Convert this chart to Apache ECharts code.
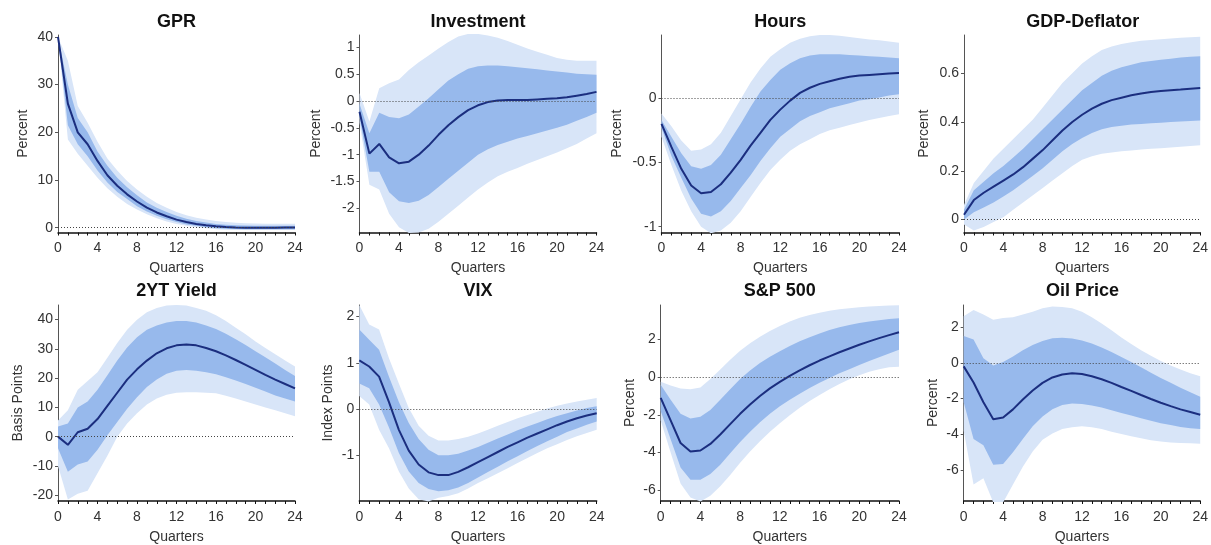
<!DOCTYPE html>
<html><head><meta charset="utf-8">
<script src="https://cdn.jsdelivr.net/npm/echarts@6/dist/echarts.min.js"></script>
<style>html,body{margin:0;padding:0;background:#fff}#c{width:1211px;height:545px}</style>
</head><body><div id="c"></div><script>
const quarters = [0,1,2,3,4,5,6,7,8,9,10,11,12,13,14,15,16,17,18,19,20,21,22,23,24];

// GPR
const gprMed   = [40,26,20,17.5,14,11,8.8,7,5.5,4.2,3.2,2.4,1.7,1.2,0.8,0.5,0.3,0.15,0.05,0,0,0,0,0.03,0.05];
const gprInLo  = [40,21.5,17.5,15,12,9.5,7.5,6,4.5,3.4,2.5,1.8,1.2,0.7,0.4,0.1,-0.1,-0.2,-0.25,-0.3,-0.3,-0.3,-0.3,-0.3,-0.3];
const gprInHi  = [40,30,23,20,16,13,10.5,8.5,6.8,5.3,4.2,3.3,2.5,1.9,1.4,1.1,0.8,0.6,0.5,0.45,0.4,0.4,0.4,0.4,0.4];
const gprOutLo = [40,18.5,15.5,13,10.5,8.3,6.5,5,3.8,2.8,2,1.3,0.8,0.4,0.1,-0.1,-0.3,-0.4,-0.5,-0.5,-0.5,-0.5,-0.5,-0.5,-0.5];
const gprOutHi = [40,35,25.5,22,18,14.5,12,9.8,8,6.5,5.2,4.2,3.3,2.6,2.1,1.7,1.4,1.2,1.05,0.95,0.9,0.85,0.85,0.85,0.85];
const gprTicks = [0,10,20,30,40];

// Investment
const invMed   = [-0.2,-0.98,-0.8,-1.05,-1.16,-1.13,-1.0,-0.83,-0.63,-0.45,-0.3,-0.17,-0.08,-0.02,0.01,0.02,0.02,0.02,0.03,0.04,0.05,0.07,0.1,0.13,0.17];
const invInLo  = [-0.3,-1.32,-1.32,-1.7,-1.87,-1.9,-1.86,-1.75,-1.6,-1.45,-1.3,-1.15,-1.0,-0.9,-0.82,-0.76,-0.7,-0.65,-0.6,-0.55,-0.5,-0.44,-0.37,-0.3,-0.22];
const invInHi  = [-0.05,-0.6,-0.22,-0.3,-0.32,-0.25,-0.1,0.05,0.22,0.38,0.5,0.6,0.65,0.66,0.66,0.65,0.63,0.61,0.59,0.57,0.55,0.53,0.51,0.5,0.49];
const invOutLo = [-0.4,-1.56,-1.65,-2.1,-2.35,-2.46,-2.45,-2.38,-2.25,-2.1,-1.95,-1.8,-1.65,-1.52,-1.4,-1.32,-1.25,-1.17,-1.1,-1.03,-0.96,-0.88,-0.8,-0.7,-0.6];
const invOutHi = [0.15,-0.38,0.24,0.33,0.4,0.58,0.72,0.85,0.98,1.1,1.2,1.25,1.25,1.22,1.18,1.12,1.05,0.98,0.92,0.86,0.8,0.77,0.75,0.75,0.75];
const invTicks = [-2,-1.5,-1,-0.5,0,0.5,1];

// Hours
const hrsMed   = [-0.2,-0.38,-0.55,-0.68,-0.74,-0.73,-0.67,-0.58,-0.48,-0.37,-0.27,-0.17,-0.09,-0.02,0.04,0.08,0.11,0.13,0.15,0.165,0.175,0.18,0.185,0.19,0.195];
const hrsInLo  = [-0.23,-0.45,-0.62,-0.78,-0.9,-0.92,-0.88,-0.8,-0.7,-0.6,-0.49,-0.39,-0.3,-0.24,-0.18,-0.14,-0.11,-0.08,-0.06,-0.04,-0.02,-0.01,0.005,0.02,0.03];
const hrsInHi  = [-0.17,-0.3,-0.43,-0.53,-0.55,-0.52,-0.44,-0.32,-0.2,-0.07,0.05,0.14,0.22,0.27,0.31,0.33,0.34,0.34,0.34,0.335,0.33,0.325,0.32,0.315,0.31];
const hrsOutLo = [-0.3,-0.52,-0.72,-0.88,-1.0,-1.05,-1.03,-0.97,-0.88,-0.77,-0.66,-0.56,-0.48,-0.41,-0.36,-0.32,-0.28,-0.25,-0.23,-0.21,-0.19,-0.17,-0.155,-0.14,-0.125];
const hrsOutHi = [-0.12,-0.22,-0.33,-0.41,-0.4,-0.36,-0.27,-0.14,-0.01,0.12,0.23,0.32,0.38,0.43,0.46,0.48,0.49,0.49,0.485,0.475,0.465,0.455,0.45,0.44,0.43];
const hrsTicks = [-1,-0.5,0];

// GDP-Deflator
const defMed   = [0.02,0.08,0.11,0.135,0.16,0.185,0.215,0.25,0.285,0.325,0.365,0.4,0.43,0.455,0.475,0.49,0.5,0.51,0.517,0.523,0.527,0.53,0.533,0.537,0.54];
const defInLo  = [0,0.03,0.05,0.07,0.095,0.12,0.15,0.18,0.21,0.245,0.28,0.31,0.335,0.355,0.37,0.38,0.385,0.39,0.392,0.395,0.397,0.4,0.402,0.404,0.406];
const defInHi  = [0.04,0.12,0.155,0.19,0.22,0.255,0.29,0.33,0.37,0.41,0.45,0.49,0.53,0.56,0.59,0.61,0.625,0.635,0.645,0.65,0.655,0.66,0.665,0.668,0.67];
const defOutLo = [-0.02,-0.045,-0.03,-0.01,0.01,0.04,0.07,0.1,0.13,0.16,0.19,0.22,0.245,0.26,0.27,0.275,0.28,0.283,0.287,0.29,0.293,0.296,0.299,0.302,0.305];
const defOutHi = [0.06,0.15,0.2,0.25,0.29,0.33,0.37,0.41,0.46,0.51,0.56,0.6,0.64,0.67,0.695,0.71,0.72,0.727,0.733,0.737,0.74,0.743,0.746,0.748,0.75];
const defTicks = [0,0.2,0.4,0.6];

// 2YT Yield
const ytMed   = [0,-2.8,1.5,2.7,6,10.5,15,19.5,23,26,28.5,30.2,31.2,31.5,31.2,30.3,29.2,27.8,26.2,24.5,22.8,21.1,19.5,18,16.5];
const ytInLo  = [-4,-12,-9.5,-8.5,-4.5,0.5,5,9.5,13.5,17,19.5,21.5,22.5,22.8,22.5,22,21.3,20.3,19.2,18,16.7,15.4,14.1,13,12];
const ytInHi  = [3.5,4.5,10,12,16,21,26,30.5,34,36.5,38,39,39.5,39.5,39,38,36.8,35.2,33.3,31.3,29.2,27.1,25,22.8,20.7];
const ytOutLo = [-10,-21.5,-19.5,-18.5,-12.5,-6.5,0,4.5,8,11,13,14.3,15,15.2,15.2,15,14.8,14,13,12,11,10,9,8,7];
const ytOutHi = [5.5,9,16,19,22,27,32,36.5,40,42.5,44,44.8,45,44.8,44,43,41.5,39.5,37.2,35,32.5,30.3,28.2,26,24];
const ytTicks = [-20,-10,0,10,20,30,40];

// VIX
const vixMed   = [1.05,0.92,0.7,0.15,-0.45,-0.9,-1.2,-1.37,-1.43,-1.43,-1.36,-1.26,-1.15,-1.04,-0.93,-0.82,-0.72,-0.62,-0.53,-0.44,-0.35,-0.27,-0.2,-0.14,-0.09];
const vixInLo  = [0.55,0.45,0.1,-0.4,-0.95,-1.35,-1.6,-1.73,-1.78,-1.76,-1.7,-1.6,-1.48,-1.36,-1.25,-1.13,-1.02,-0.91,-0.8,-0.7,-0.6,-0.5,-0.42,-0.34,-0.27];
const vixInHi  = [1.72,1.5,1.28,0.7,0.15,-0.3,-0.65,-0.88,-1.0,-1.0,-0.97,-0.9,-0.82,-0.73,-0.64,-0.55,-0.46,-0.38,-0.3,-0.22,-0.15,-0.09,-0.03,0.02,0.06];
const vixOutLo = [0.28,0.1,-0.45,-0.85,-1.35,-1.72,-1.95,-2.0,-1.92,-1.88,-1.82,-1.72,-1.6,-1.5,-1.39,-1.28,-1.17,-1.06,-0.95,-0.85,-0.76,-0.67,-0.59,-0.52,-0.45];
const vixOutHi = [2.25,1.83,1.72,1.1,0.55,0.02,-0.36,-0.58,-0.68,-0.68,-0.65,-0.6,-0.53,-0.45,-0.36,-0.28,-0.2,-0.13,-0.06,0.01,0.07,0.12,0.16,0.2,0.24];
const vixTicks = [-1,0,1,2];

// S&P 500
const spMed   = [-1.1,-2.3,-3.5,-3.95,-3.9,-3.55,-3.05,-2.5,-1.95,-1.45,-1.0,-0.6,-0.25,0.07,0.36,0.63,0.88,1.1,1.32,1.52,1.72,1.9,2.07,2.23,2.38];
const spInLo  = [-1.8,-3.3,-4.8,-5.45,-5.45,-5.15,-4.65,-4.05,-3.45,-2.9,-2.4,-1.95,-1.55,-1.2,-0.88,-0.58,-0.3,-0.05,0.2,0.42,0.64,0.85,1.05,1.25,1.45];
const spInHi  = [-0.4,-1.2,-1.95,-2.2,-2.1,-1.75,-1.2,-0.65,-0.1,0.35,0.75,1.08,1.38,1.65,1.9,2.12,2.32,2.5,2.65,2.77,2.87,2.95,3.02,3.08,3.13];
const spOutLo = [-2.3,-4.0,-5.65,-6.4,-6.6,-6.3,-5.8,-5.2,-4.55,-3.95,-3.4,-2.9,-2.45,-2.02,-1.63,-1.27,-0.95,-0.65,-0.37,-0.12,0.1,0.28,0.42,0.52,0.55];
const spOutHi = [-0.25,-0.45,-0.6,-0.65,-0.55,-0.1,0.4,0.92,1.4,1.8,2.15,2.45,2.72,2.95,3.15,3.3,3.42,3.52,3.6,3.66,3.71,3.75,3.78,3.8,3.82];
const spTicks = [-6,-4,-2,0,2];

// Oil Price
const oilMed   = [-0.2,-1.1,-2.2,-3.15,-3.05,-2.6,-2.05,-1.55,-1.12,-0.82,-0.65,-0.58,-0.62,-0.75,-0.92,-1.12,-1.35,-1.57,-1.8,-2.02,-2.23,-2.42,-2.6,-2.75,-2.9];
const oilInLo  = [-2.2,-4.25,-4.6,-5.7,-5.65,-5.0,-4.25,-3.55,-3.0,-2.6,-2.35,-2.27,-2.3,-2.38,-2.5,-2.65,-2.8,-2.95,-3.1,-3.24,-3.37,-3.48,-3.58,-3.65,-3.7];
const oilInHi  = [1.5,1.3,0.25,-0.15,0.05,0.35,0.7,1.0,1.22,1.37,1.4,1.36,1.25,1.08,0.85,0.6,0.33,0.05,-0.25,-0.55,-0.85,-1.12,-1.4,-1.65,-1.9];
const oilOutLo = [-3.8,-6.8,-6.45,-7.8,-7.8,-6.8,-5.8,-4.95,-4.3,-3.95,-3.7,-3.6,-3.55,-3.6,-3.7,-3.85,-3.98,-4.1,-4.22,-4.32,-4.4,-4.45,-4.48,-4.5,-4.52];
const oilOutHi = [2.6,2.95,2.7,2.4,2.5,2.55,2.7,2.85,3.05,3.15,3.12,3.05,2.85,2.55,2.2,1.82,1.42,1.05,0.7,0.4,0.1,-0.15,-0.38,-0.58,-0.75];
const oilTicks = [-6,-4,-2,0,2];

const panels = [
  {title:'GPR', yName:'Percent', min:-1, max:40.4, ticks:gprTicks, med:gprMed, inLo:gprInLo, inHi:gprInHi, outLo:gprOutLo, outHi:gprOutHi, left:58, top:35, width:237, nameGap:28},
  {title:'Investment', yName:'Percent', min:-2.45, max:1.23, ticks:invTicks, med:invMed, inLo:invInLo, inHi:invInHi, outLo:invOutLo, outHi:invOutHi, left:359.5, top:35, width:237, nameGap:36},
  {title:'Hours', yName:'Percent', min:-1.045, max:0.49, ticks:hrsTicks, med:hrsMed, inLo:hrsInLo, inHi:hrsInHi, outLo:hrsOutLo, outHi:hrsOutHi, left:661.5, top:35, width:237.5, nameGap:37},
  {title:'GDP-Deflator', yName:'Percent', min:-0.053, max:0.757, ticks:defTicks, med:defMed, inLo:defInLo, inHi:defInHi, outLo:defOutLo, outHi:defOutHi, left:964, top:35, width:237.3, nameGap:33},
  {title:'2YT Yield', yName:'Basis Points', min:-22, max:45, ticks:ytTicks, med:ytMed, inLo:ytInLo, inHi:ytInHi, outLo:ytOutLo, outHi:ytOutHi, left:58, top:305, width:237, nameGap:33},
  {title:'VIX', yName:'Index Points', min:-1.99, max:2.25, ticks:vixTicks, med:vixMed, inLo:vixInLo, inHi:vixInHi, outLo:vixOutLo, outHi:vixOutHi, left:359.3, top:305, width:237.4, nameGap:24},
  {title:'S&P 500', yName:'Percent', min:-6.58, max:3.83, ticks:spTicks, med:spMed, inLo:spInLo, inHi:spInHi, outLo:spOutLo, outHi:spOutHi, left:660.7, top:305, width:238.3, nameGap:24},
  {title:'Oil Price', yName:'Percent', min:-7.72, max:3.23, ticks:oilTicks, med:oilMed, inLo:oilInLo, inHi:oilInHi, outLo:oilOutLo, outHi:oilOutHi, left:963.7, top:305, width:237.6, nameGap:24}
];

const FONT = 'Liberation Sans, Arial, sans-serif';
const LIGHT = '#d8e5f8', MID = '#97b9ec', NAVY = '#1b2e7f';
const diff = (hi, lo) => hi.map((v, k) => v - lo[k]);

const grid = [], xAxis = [], yAxis = [], series = [], title = [];
panels.forEach((p, i) => {
  const h = p.top === 35 ? 197.5 : 198;
  grid.push({left: p.left, top: p.top, width: p.width, height: h, containLabel: false});
  title.push({text: p.title, left: p.left + p.width / 2, top: p.top === 35 ? 13 : 282, textAlign: 'center', padding: 0,
    textStyle: {fontFamily: FONT, fontSize: 18, fontWeight: 'bold', color: '#111'}});
  xAxis.push({type: 'category', gridIndex: i, data: quarters, boundaryGap: false,
    name: 'Quarters', nameLocation: 'middle', nameGap: 29,
    nameTextStyle: {fontFamily: FONT, fontSize: 14, color: '#333'},
    axisLine: {show: true, onZero: false, lineStyle: {color: '#111', width: 1.5}},
    axisTick: {show: true, length: 3, interval: 0, lineStyle: {color: '#111'}},
    splitLine: {show: false},
    axisLabel: {fontFamily: FONT, fontSize: 14, color: '#333', margin: 9, interval: 3}
  });
  yAxis.push({type: 'value', gridIndex: i, min: p.min, max: p.max,
    name: p.yName, nameLocation: 'middle', nameRotate: 90, nameGap: p.nameGap,
    nameTextStyle: {fontFamily: FONT, fontSize: 14, color: '#333'},
    axisLine: {show: true, onZero: false, lineStyle: {color: '#555', width: 1}},
    axisTick: {show: true, length: 3, customValues: p.ticks, lineStyle: {color: '#555'}},
    splitLine: {show: false},
    axisLabel: {fontFamily: FONT, fontSize: 14, color: '#333', margin: 5, customValues: p.ticks}
  });
  const common = {type: 'line', xAxisIndex: i, yAxisIndex: i, symbol: 'none', silent: true, animation: false, stackStrategy: 'all'};
  series.push(Object.assign({}, common, {data: p.outLo, stack: 'o' + i, lineStyle: {opacity: 0}}));
  series.push(Object.assign({}, common, {data: diff(p.outHi, p.outLo), stack: 'o' + i, lineStyle: {opacity: 0}, areaStyle: {color: LIGHT, opacity: 1}}));
  series.push(Object.assign({}, common, {data: p.inLo, stack: 'n' + i, lineStyle: {opacity: 0}}));
  series.push(Object.assign({}, common, {data: diff(p.inHi, p.inLo), stack: 'n' + i, lineStyle: {opacity: 0}, areaStyle: {color: MID, opacity: 1}}));
  series.push(Object.assign({}, common, {data: p.med, stackStrategy: undefined, lineStyle: {color: NAVY, width: 2},
    markLine: {silent: true, symbol: 'none', label: {show: false}, animation: false,
      lineStyle: {color: '#444', type: [1, 2], width: 1}, data: [{yAxis: 0}]}}));
});

const chart = echarts.init(document.getElementById('c'), null, {renderer: 'canvas'});
chart.setOption({animation: false, backgroundColor: '#fff', title, grid, xAxis, yAxis, series});
</script></body></html>
